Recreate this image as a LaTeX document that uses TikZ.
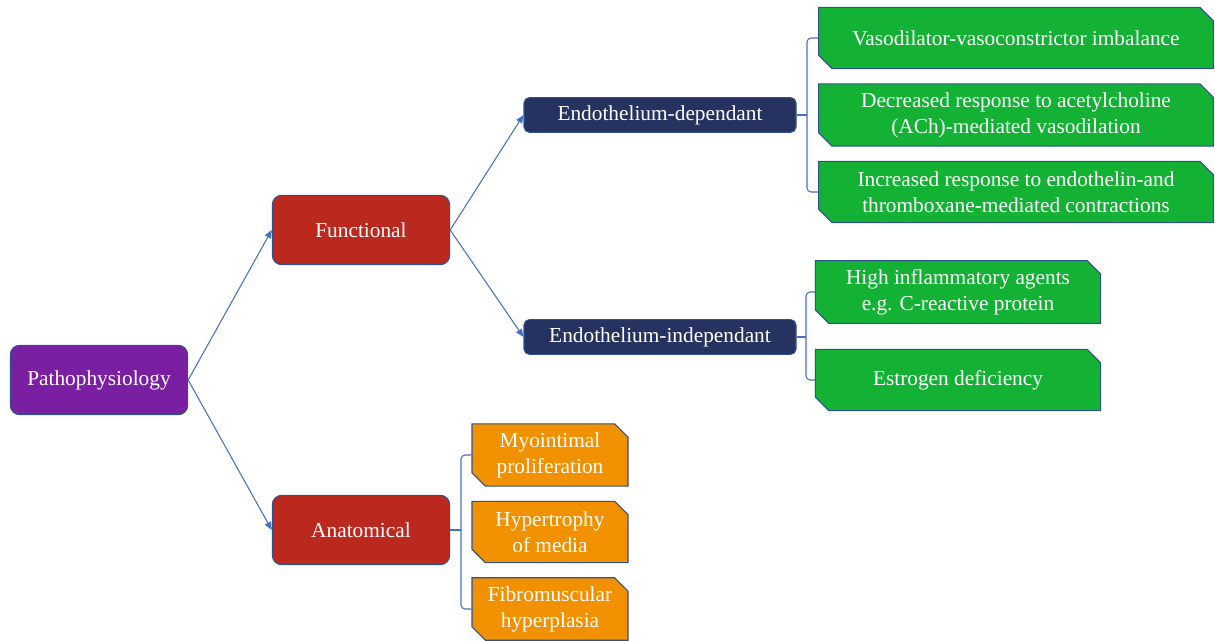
\documentclass[tikz,border=0pt]{standalone}
\usepackage{fontspec}
\setmainfont{Liberation Serif}
\usetikzlibrary{arrows.meta,positioning,shapes.misc}
\definecolor{rootpurple}{RGB}{123,31,162}
\definecolor{branchred}{RGB}{187,41,30}
\definecolor{subnavy}{RGB}{38,50,95}
\definecolor{leafgreen}{RGB}{19,178,52}
\definecolor{leaforange}{RGB}{242,145,0}
\definecolor{edgeblue}{RGB}{47,82,143}
\definecolor{linkblue}{RGB}{68,114,196}
\tikzset{
  box/.style={rectangle, rounded corners=7pt, draw=edgeblue, line width=0.8pt, text=white,
    align=center, font=\fontsize{16}{19.5}\selectfont, minimum width=133pt, minimum height=52pt},
  subbox/.style={box, fill=subnavy, rounded corners=4pt, minimum width=204pt, minimum height=26pt},
  leaf/.style={chamfered rectangle, chamfered rectangle corners={north east,south west},
    chamfered rectangle xsep=7pt, draw=edgeblue, line width=0.8pt, text=white, align=center,
    font=\fontsize{16}{19.5}\selectfont, minimum height=46pt, inner xsep=2pt},
  arr/.style={linkblue, line width=0.8pt, -{Triangle[length=6pt,width=5pt]}},
  link/.style={linkblue, line width=0.8pt, rounded corners=3pt}
}
\begin{document}
\begin{tikzpicture}[x=0.75pt,y=-0.75pt]
\useasboundingbox (0,0) rectangle (1215,641);

% main tree
\node[box, fill=rootpurple] (patho) at (99,380) {Pathophysiology};
\node[box, fill=branchred] (func) at (361,230) {Functional};
\node[box, fill=branchred] (anat) at (361,530) {Anatomical};
\node[subbox] (edep) at (660,115) {Endothelium-dependant};
\node[subbox] (eind) at (660,337) {Endothelium-independant};

\draw[arr] (patho.east) -- (func.west);
\draw[arr] (patho.east) -- (anat.west);
\draw[arr] (func.east) -- (edep.west);
\draw[arr] (func.east) -- (eind.west);

% leaves
\node[leaf, fill=leafgreen, minimum width=296pt] (vaso) at (1016,38) {Vasodilator-vasoconstrictor imbalance};
\node[leaf, fill=leafgreen, minimum width=296pt] (ach) at (1016,115) {Decreased response to acetylcholine\\(ACh)-mediated vasodilation};
\node[leaf, fill=leafgreen, minimum width=296pt] (endo) at (1016,192) {Increased response to endothelin-and\\thromboxane-mediated contractions};
\node[leaf, fill=leafgreen, minimum width=214pt] (crp) at (958,292) {High inflammatory agents\\e.g. C-reactive protein};
\node[leaf, fill=leafgreen, minimum width=214pt] (estro) at (958,380) {Estrogen deficiency};
\node[leaf, fill=leaforange, minimum width=117pt] (myo) at (550,455) {Myointimal\\proliferation};
\node[leaf, fill=leaforange, minimum width=117pt] (hyper) at (550,532) {Hypertrophy\\of media};
\node[leaf, fill=leaforange, minimum width=117pt] (fibro) at (550,609) {Fibromuscular\\hyperplasia};

% brackets
\coordinate (edb) at (807,115);
\coordinate (eib) at (806,337);
\coordinate (anb) at (461,530);
\draw[link] (vaso.west) -| (edb) |- (endo.west);
\draw[link] (edep.east) -- (edb);
\draw[link] (crp.west) -| (eib) |- (estro.west);
\draw[link] (eind.east) -- (eib);
\draw[link] (myo.west) -| (anb) |- (fibro.west);
\draw[link] (anat.east) -- (anb);
\end{tikzpicture}
\end{document}
